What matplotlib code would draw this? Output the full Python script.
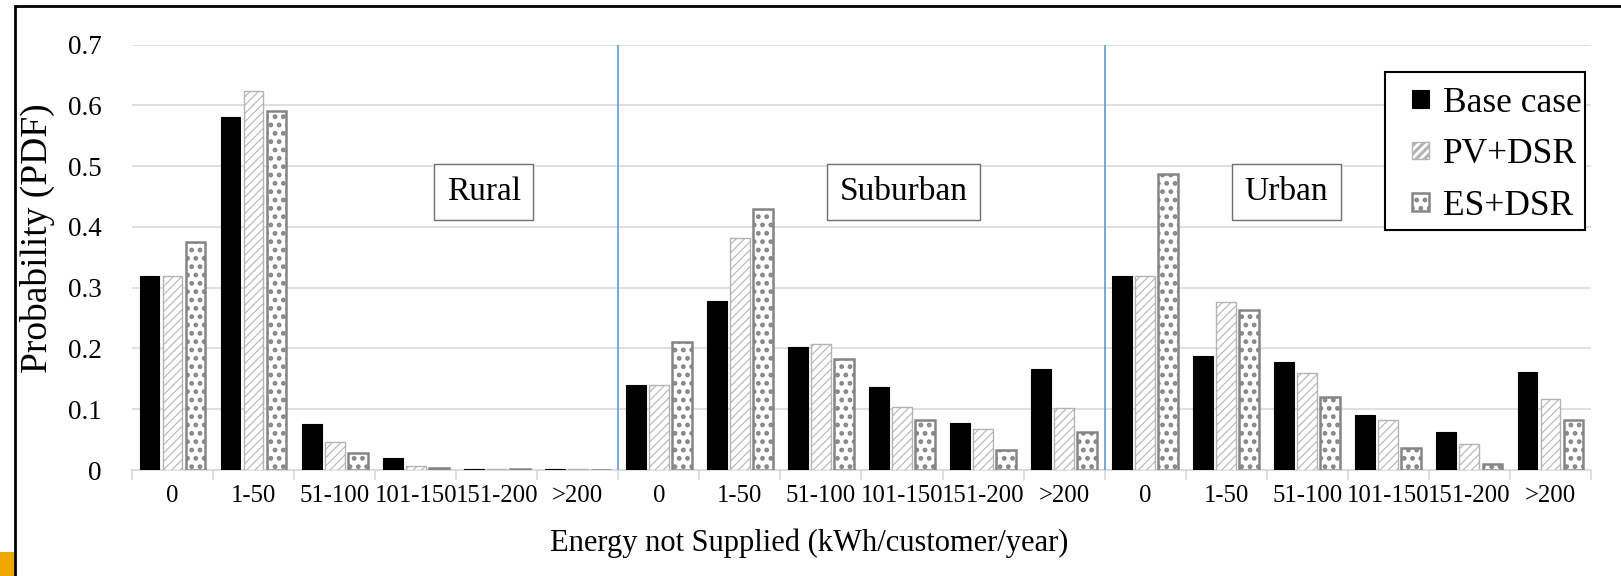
import matplotlib
matplotlib.use("Agg")
import matplotlib.pyplot as plt
import numpy as np
from matplotlib.legend_handler import HandlerPatch
from matplotlib.patches import Rectangle

# ---- data ----
bins = ["0", "1-50", "51-100", "101-150", "151-200", ">200"]
regions = ["Rural", "Suburban", "Urban"]

base_case = [0.320, 0.580, 0.076, 0.020, 0.002, 0.0015,
             0.140, 0.278, 0.203, 0.137, 0.077, 0.167,
             0.320, 0.187, 0.178, 0.090, 0.063, 0.162]
pv_dsr = [0.320, 0.623, 0.046, 0.007, 0.001, 0.001,
          0.140, 0.382, 0.207, 0.103, 0.067, 0.102,
          0.320, 0.277, 0.160, 0.082, 0.043, 0.117]
es_dsr = [0.375, 0.590, 0.028, 0.004, 0.001, 0.0005,
          0.210, 0.430, 0.182, 0.083, 0.033, 0.063,
          0.487, 0.263, 0.120, 0.037, 0.010, 0.082]

tick_labels = bins * len(regions)

plt.rcParams["font.family"] = ["Liberation Serif", "DejaVu Serif"]


def small_square(legend, orig_handle, xdescent, ydescent, width, height, fontsize):
    # small square handle pushed to the right end of the handle box
    s = 12.5
    return Rectangle((-xdescent + width - s, -ydescent + (height - s) / 2), s, s)


fig = plt.figure(figsize=(16.21, 5.76), dpi=100)
ax = fig.add_axes([0.0814, 0.184, 0.9001, 0.7387])

x = np.arange(len(tick_labels))
w = 0.245
off = 0.284
b1 = ax.bar(x - off, base_case, w, color="black", edgecolor="black", lw=0.8,
            label="Base case", zorder=3)
plt.rcParams["hatch.linewidth"] = 0.8
b2 = ax.bar(x, pv_dsr, w, color="white", edgecolor="#b3b3b3", hatch="////", lw=1.0,
            label="PV+DSR", zorder=3)
plt.rcParams["hatch.linewidth"] = 2.2
b3 = ax.bar(x + off, es_dsr, w, color="white", edgecolor="#858585", hatch="..", lw=1.8,
            label="ES+DSR", zorder=3)

ax.set_xlim(-0.5, len(tick_labels) - 0.5)
ax.set_ylim(0, 0.7)
ax.set_yticks(np.arange(0, 0.71, 0.1))
ax.set_yticklabels(["0"] + [f"{v:.1f}" for v in np.arange(0.1, 0.71, 0.1)])
ax.grid(axis="y", color="#d9d9d9", lw=1.2, zorder=0)

ax.set_xticks(x)
ax.set_xticklabels(tick_labels)
ax.set_xticks(np.arange(-0.5, len(tick_labels)), minor=True)
ax.tick_params(axis="x", which="major", length=0, labelsize=17.8, pad=11)
ax.tick_params(axis="x", which="minor", length=7, color="#d9d9d9", width=1.2)
ax.tick_params(axis="y", length=0, labelsize=19.5, pad=22)

for side in ["top", "right", "left"]:
    ax.spines[side].set_visible(False)
ax.spines["bottom"].set_color("#d9d9d9")
ax.spines["bottom"].set_linewidth(1.2)

# region separators
for sep in [5.5, 11.5]:
    ax.axvline(sep, color="#5b9bd5", lw=1.2, zorder=4)

label_pos = [3.84, 9.02, 13.74]
for name, xp in zip(regions, label_pos):
    ax.text(xp, 0.457, name, ha="center", va="center", fontsize=24, zorder=5,
            bbox=dict(boxstyle="square,pad=0.38", fc="white", ec="#6e6e6e", lw=1.0))

ax.set_ylabel("Probability (PDF)", fontsize=27, labelpad=9, y=0.545)
ax.set_xlabel("Energy not Supplied (kWh/customer/year)", fontsize=22,
              labelpad=15, x=0.464)

# legend: text is tight against the right edge of its box, so the box is drawn separately
ax.add_patch(Rectangle((0.8588, 0.564), 0.1371, 0.3714, transform=ax.transAxes,
                       fc="white", ec="black", lw=1.5, clip_on=False, zorder=6))
handles = [b1.patches[0], b2.patches[0], b3.patches[0]]
leg = ax.legend(handles, ["Base case", "PV+DSR", "ES+DSR"],
                loc="upper right", bbox_to_anchor=(1.018, 0.984), fontsize=25.5,
                frameon=False, handlelength=0.85, handleheight=0.5,
                handletextpad=0.4, labelspacing=0.52, borderpad=0.5,
                handler_map={Rectangle: HandlerPatch(patch_func=small_square)})
leg.set_zorder(7)

# outer frame and corner mark
fig.patches.append(Rectangle((15 / 1621, -0.1), 1.2, 1 - 6 / 576 + 0.1,
                             transform=fig.transFigure, fill=False,
                             ec="black", lw=2.0))
fig.patches.append(Rectangle((0, 0), 14 / 1621, 24 / 576,
                             transform=fig.transFigure, color="#f0a800", lw=0))

fig.savefig("out.png", dpi=100)
